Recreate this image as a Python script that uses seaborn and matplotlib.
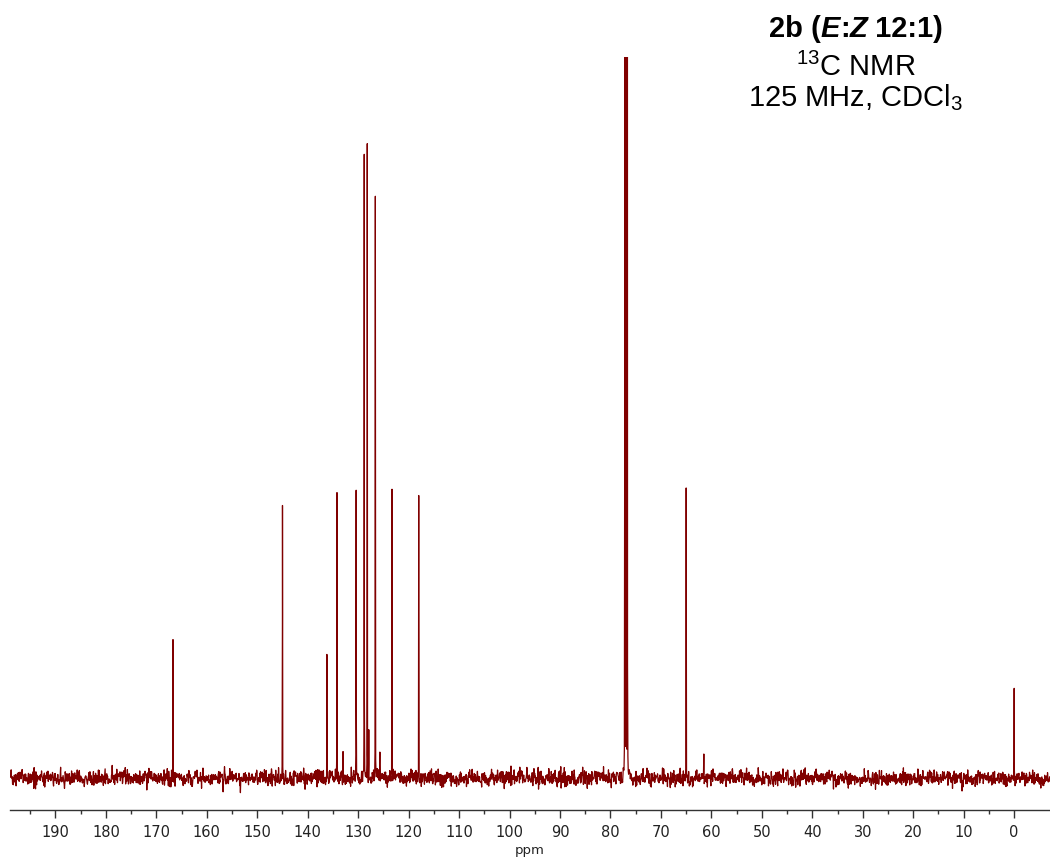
import numpy as np
import pandas as pd
import seaborn as sns
import matplotlib.pyplot as plt
from matplotlib.offsetbox import TextArea, HPacker, AnchoredOffsetbox

# Peak list: chemical shift (ppm) and intensity (arbitrary units above baseline)
shifts = [166.7, 145.0, 136.2, 134.2, 133.0, 130.4, 128.8, 128.2, 127.9,
          126.6, 125.7, 123.3, 118.0, 77.16, 76.91, 76.66, 65.0, 61.5, 29.7, 0.0]
heights = [130, 275, 125, 288, 22, 291, 621, 632, 45,
           576, 26, 290, 281, 1400, 1450, 1400, 283, 22, 10, 89]
major_ticks = list(range(0, 200, 10))
x_range = (199.0, -7.1)

sns.set_theme(style="white")
plt.rcParams["font.family"] = ["DejaVu Sans"]
plt.rcParams["mathtext.fontset"] = "custom"
plt.rcParams["mathtext.rm"] = "Liberation Sans"

# Sample the spectrum on a grid that also contains every line centre
grid = np.arange(x_range[1], x_range[0], 0.07)
ppm = np.unique(np.concatenate([grid, shifts]))
hwhm = 0.012
signal = np.zeros_like(ppm)
for c, h in zip(shifts, heights):
    signal += h * hwhm**2 / ((ppm - c) ** 2 + hwhm**2)
# Baseline noise (fixed seed so the trace is reproducible)
rng = np.random.default_rng(7)
baseline_noise = rng.normal(0, 4.0, ppm.size)
df = pd.DataFrame({"ppm": ppm, "intensity": signal + baseline_noise})

fig = plt.figure(figsize=(10.5, 8.61), dpi=100)
ax = fig.add_axes([10 / 1050, 51 / 861, 1040 / 1050, 753 / 861])
sns.lineplot(data=df, x="ppm", y="intensity", ax=ax, color="#800000",
             linewidth=0.9, estimator=None, sort=False)

ax.set_xlim(*x_range)
ax.set_ylim(-32, 721)
ax.set_yticks([])
ax.set_ylabel("")
for s in ["top", "left", "right"]:
    ax.spines[s].set_visible(False)
ax.spines["bottom"].set_color("#333333")
ax.spines["bottom"].set_linewidth(1.0)
ax.set_xticks(major_ticks)
ax.set_xticks(list(range(5, 200, 10)), minor=True)
ax.tick_params(axis="x", which="major", direction="out", length=6, width=1,
               color="#333333", labelsize=10.5, labelcolor="#222222", pad=5,
               bottom=True)
ax.tick_params(axis="x", which="minor", direction="out", length=3, width=1,
               color="#333333", bottom=True)
ax.set_xlabel("ppm", fontsize=9.5, color="#222222", labelpad=3)

# Sample annotation, upper right
fs = 21
bold = dict(size=fs, weight="bold", family="Liberation Sans", color="black")
bold_it = dict(bold, style="italic")
parts = [TextArea("2b (", textprops=bold), TextArea("E", textprops=bold_it),
         TextArea(":", textprops=bold), TextArea("Z", textprops=bold_it),
         TextArea(" 12:1)", textprops=bold)]
title_box = AnchoredOffsetbox(loc="center", child=HPacker(children=parts, pad=0, sep=0),
                              bbox_to_anchor=(856 / 1050, 1 - 29 / 861),
                              bbox_transform=fig.transFigure, frameon=False, pad=0,
                              borderpad=0)
fig.add_artist(title_box)
reg = dict(size=fs, family="Liberation Sans", color="black", ha="center", va="center")
fig.text(856 / 1050, 1 - 67 / 861, r"$^{13}$C NMR", **reg)
fig.text(856 / 1050, 1 - 98 / 861, r"125 MHz, CDCl$_3$", **reg)

fig.savefig("out.png", dpi=100)
